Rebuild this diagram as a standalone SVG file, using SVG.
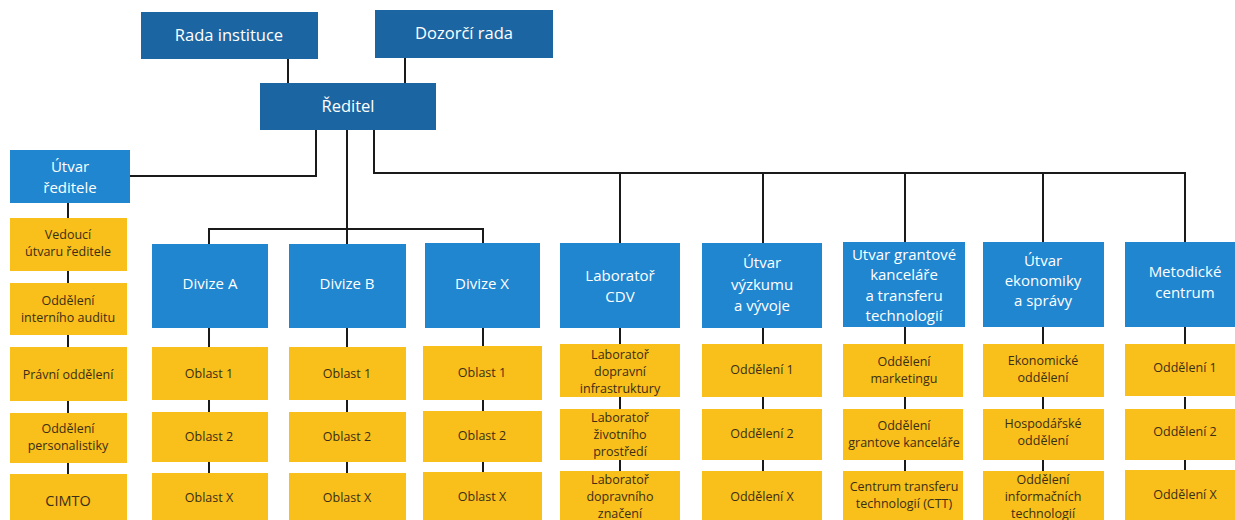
<svg xmlns="http://www.w3.org/2000/svg" width="1235" height="520" viewBox="0 0 1235 520">
<style>
.top{fill:#1b66a2}
.mid{fill:#1f86cf}
.yel{fill:#f9bf1a}
.tw{fill:#ffffff;font-family:"Open Sans","Liberation Sans",sans-serif;text-anchor:middle}
.tt{font-size:16.5px}
.tm{font-size:15px}
.ty{fill:#3b2e18;font-family:"Open Sans","Liberation Sans",sans-serif;font-size:12.5px;text-anchor:middle}
.cn{fill:none;stroke:#1a1a1a;stroke-width:2}
</style>
<rect width="1235" height="520" fill="#ffffff"/>
<g id="connectors" class="cn">
<path d="M288 59V83M405 58V83"/>
<path d="M316 130V176H130"/>
<path d="M347 130V244M209 244V229H483V243"/>
<path d="M374 130V173H1185V242M620 173V243M763 173V243M905 173V242M1043 173V242"/>
<path d="M68 203V218M68 271V283M68 335V347M68 401V413M68 463V474"/>
<path d="M209 328V347M209 400V412M209 462V473"/>
<path d="M347 328V347M347 400V412M347 462V473"/>
<path d="M483 328V347M483 400V412M483 462V473"/>
<path d="M620 328V344M620 397V409M620 460V471"/>
<path d="M763 328V344M763 397V409M763 460V471"/>
<path d="M905 327V344M905 397V409M905 460V471"/>
<path d="M1043 327V344M1043 397V409M1043 460V471"/>
<path d="M1185 327V344M1185 397V409M1185 460V471"/>
</g>
<g id="rada"><rect class="top" x="141" y="12" width="177" height="47"/><text class="tw tt" x="229" y="41">Rada instituce</text></g>
<g id="dozorci"><rect class="top" x="375" y="10" width="178" height="48"/><text class="tw tt" x="464" y="39">Dozorčí rada</text></g>
<g id="reditel"><rect class="top" x="260" y="83" width="176" height="47"/><text class="tw tt" x="348" y="112">Ředitel</text></g>
<g id="utvar-reditele"><rect class="mid" x="10" y="150" width="120" height="53"/><text class="tw tm" x="70" y="172">Útvar</text><text class="tw tm" x="70" y="193">ředitele</text></g>
<g id="vedouci"><rect class="yel" x="10" y="218" width="117" height="53"/><text class="ty" x="68" y="239">Vedoucí</text><text class="ty" x="68" y="256">útvaru ředitele</text></g>
<g id="audit"><rect class="yel" x="10" y="283" width="117" height="52"/><text class="ty" x="68" y="305">Oddělení</text><text class="ty" x="68" y="322">interního auditu</text></g>
<g id="pravni"><rect class="yel" x="10" y="347" width="117" height="54"/><text class="ty" x="68" y="379">Právní oddělení</text></g>
<g id="personal"><rect class="yel" x="10" y="413" width="117" height="50"/><text class="ty" x="68" y="433">Oddělení</text><text class="ty" x="68" y="450">personalistiky</text></g>
<g id="cimto"><rect class="yel" x="10" y="474" width="117" height="52"/><text class="ty" x="68" y="506" style="font-size:14.5px">CIMTO</text></g>
<g id="divize-a"><rect class="mid" x="152" y="244" width="116" height="84"/><text class="tw tm" x="210" y="289">Divize A</text></g>
<g id="divize-b"><rect class="mid" x="289" y="244" width="117" height="84"/><text class="tw tm" x="347" y="289">Divize B</text></g>
<g id="divize-x"><rect class="mid" x="425" y="243" width="115" height="85"/><text class="tw tm" x="482" y="289">Divize X</text></g>
<g id="lab-cdv"><rect class="mid" x="560" y="243" width="120" height="85"/><text class="tw tm" x="620" y="281">Laboratoř</text><text class="tw tm" x="620" y="302">CDV</text></g>
<g id="vyzkum"><rect class="mid" x="702" y="243" width="120" height="85"/><text class="tw tm" x="762" y="268">Útvar</text><text class="tw tm" x="762" y="290">výzkumu</text><text class="tw tm" x="762" y="311">a vývoje</text></g>
<g id="grant"><rect class="mid" x="843" y="242" width="122" height="85"/><text class="tw tm" x="904" y="260">Utvar grantové</text><text class="tw tm" x="904" y="280">kanceláře</text><text class="tw tm" x="904" y="301">a transferu</text><text class="tw tm" x="904" y="321">technologií</text></g>
<g id="ekonomika"><rect class="mid" x="983" y="242" width="121" height="85"/><text class="tw tm" x="1043" y="266">Útvar</text><text class="tw tm" x="1043" y="286">ekonomiky</text><text class="tw tm" x="1043" y="306">a správy</text></g>
<g id="metodicke"><rect class="mid" x="1125" y="242" width="120" height="85"/><text class="tw tm" x="1185" y="277">Metodické</text><text class="tw tm" x="1185" y="298">centrum</text></g>
<g id="a1"><rect class="yel" x="152" y="347" width="116" height="53"/><text class="ty" x="209" y="378">Oblast 1</text></g>
<g id="a2"><rect class="yel" x="152" y="412" width="116" height="50"/><text class="ty" x="209" y="441">Oblast 2</text></g>
<g id="ax"><rect class="yel" x="152" y="473" width="116" height="52"/><text class="ty" x="209" y="502">Oblast X</text></g>
<g id="b1"><rect class="yel" x="289" y="347" width="117" height="53"/><text class="ty" x="347" y="378">Oblast 1</text></g>
<g id="b2"><rect class="yel" x="289" y="412" width="117" height="50"/><text class="ty" x="347" y="441">Oblast 2</text></g>
<g id="bx"><rect class="yel" x="289" y="473" width="117" height="52"/><text class="ty" x="347" y="502">Oblast X</text></g>
<g id="x1"><rect class="yel" x="423" y="346" width="119" height="54"/><text class="ty" x="482" y="377">Oblast 1</text></g>
<g id="x2"><rect class="yel" x="423" y="411" width="119" height="51"/><text class="ty" x="482" y="440">Oblast 2</text></g>
<g id="xx"><rect class="yel" x="423" y="472" width="119" height="53"/><text class="ty" x="482" y="501">Oblast X</text></g>
<g id="lab1"><rect class="yel" x="560" y="344" width="120" height="53"/><text class="ty" x="620" y="359">Laboratoř</text><text class="ty" x="620" y="376">dopravní</text><text class="ty" x="620" y="393">infrastruktury</text></g>
<g id="lab2"><rect class="yel" x="560" y="409" width="120" height="51"/><text class="ty" x="620" y="422">Laboratoř</text><text class="ty" x="620" y="439">životního</text><text class="ty" x="620" y="456">prostředí</text></g>
<g id="lab3"><rect class="yel" x="560" y="471" width="120" height="54"/><text class="ty" x="620" y="484">Laboratoř</text><text class="ty" x="620" y="501">dopravního</text><text class="ty" x="620" y="518">značení</text></g>
<g id="v1"><rect class="yel" x="702" y="344" width="120" height="53"/><text class="ty" x="762" y="374">Oddělení 1</text></g>
<g id="v2"><rect class="yel" x="702" y="409" width="120" height="51"/><text class="ty" x="762" y="438">Oddělení 2</text></g>
<g id="vx"><rect class="yel" x="702" y="471" width="120" height="54"/><text class="ty" x="762" y="501">Oddělení X</text></g>
<g id="g1"><rect class="yel" x="843" y="344" width="120" height="53"/><text class="ty" x="904" y="366">Oddělení</text><text class="ty" x="904" y="383">marketingu</text></g>
<g id="g2"><rect class="yel" x="843" y="409" width="120" height="51"/><text class="ty" x="904" y="430">Oddělení</text><text class="ty" x="904" y="447">grantove kanceláře</text></g>
<g id="g3"><rect class="yel" x="843" y="471" width="120" height="54"/><text class="ty" x="904" y="491">Centrum transferu</text><text class="ty" x="904" y="508">technologií (CTT)</text></g>
<g id="e1"><rect class="yel" x="983" y="344" width="121" height="53"/><text class="ty" x="1043" y="365">Ekonomické</text><text class="ty" x="1043" y="382">oddělení</text></g>
<g id="e2"><rect class="yel" x="983" y="409" width="121" height="51"/><text class="ty" x="1043" y="428">Hospodářské</text><text class="ty" x="1043" y="445">oddělení</text></g>
<g id="e3"><rect class="yel" x="983" y="471" width="121" height="54"/><text class="ty" x="1043" y="484">Oddělení</text><text class="ty" x="1043" y="501">informačních</text><text class="ty" x="1043" y="518">technologií</text></g>
<g id="m1"><rect class="yel" x="1125" y="344" width="120" height="52"/><text class="ty" x="1185" y="372">Oddělení 1</text></g>
<g id="m2"><rect class="yel" x="1125" y="409" width="120" height="51"/><text class="ty" x="1185" y="436">Oddělení 2</text></g>
<g id="mx"><rect class="yel" x="1125" y="470" width="120" height="55"/><text class="ty" x="1185" y="499">Oddělení X</text></g>
</svg>
